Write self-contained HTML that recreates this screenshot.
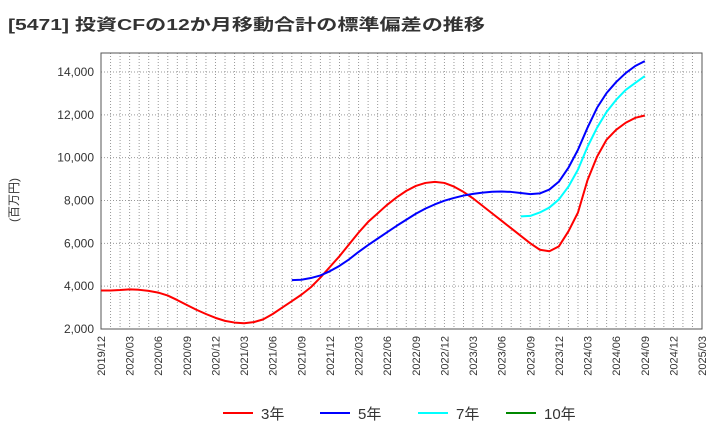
<!DOCTYPE html>
<html><head><meta charset="utf-8"><style>
body{margin:0;background:#fff;font-family:"Liberation Sans","Noto Sans CJK JP",sans-serif;}
svg{display:block}
</style></head><body>
<svg width="720" height="440" xmlns="http://www.w3.org/2000/svg">
<text x="8" y="30" font-size="16" font-weight="bold" fill="#333" textLength="477" lengthAdjust="spacingAndGlyphs">[5471]  投資CFの12か月移動合計の標準偏差の推移</text>
<text transform="translate(18,200) rotate(-90)" text-anchor="middle" font-size="12" fill="#333">(百万円)</text>
<g id="grid"></g><g id="axes"></g><g id="series"></g><g id="legend"></g>
</svg>
<script>
const xLabels=["2019/12","2020/03","2020/06","2020/09","2020/12","2021/03","2021/06","2021/09","2021/12","2022/03","2022/06","2022/09","2022/12","2023/03","2023/06","2023/09","2023/12","2024/03","2024/06","2024/09","2024/12","2025/03"];
const yTicks=[2000,4000,6000,8000,10000,12000,14000];
// monthly values; index 0 = 2019/12
const s3Start=0;
const s3=[3800,3800,3820,3850,3830,3780,3700,3560,3350,3120,2900,2700,2520,2380,2300,2270,2320,2450,2700,3000,3300,3600,3950,4400,4900,5400,5950,6500,7000,7400,7800,8150,8450,8680,8820,8870,8820,8650,8400,8100,7750,7400,7050,6700,6350,6000,5700,5630,5860,6560,7440,8950,10050,10840,11300,11630,11860,11970];
const s5Start=20;
const s5=[4280,4300,4380,4500,4700,4950,5250,5600,5920,6220,6520,6820,7100,7380,7620,7820,7990,8120,8230,8310,8370,8410,8420,8400,8350,8300,8330,8510,8880,9530,10370,11400,12330,13020,13530,13950,14280,14510];
const s7Start=44;
const s7=[7260,7280,7440,7670,8050,8650,9440,10510,11400,12140,12700,13160,13490,13810];
const s10=[];
const L=101,R=702,T=53,B=329,totalMonths=63;
const X=m=>L+(R-L)*m/totalMonths;
const Y=v=>B-(v-2000)*(B-72)/12000;
const NS="http://www.w3.org/2000/svg";
function mk(tag,attrs,parent){const e=document.createElementNS(NS,tag);for(const k in attrs)e.setAttribute(k,attrs[k]);parent.appendChild(e);return e;}
const grid=document.getElementById('grid'),axes=document.getElementById('axes'),ser=document.getElementById('series'),leg=document.getElementById('legend');
for(let m=1;m<totalMonths;m++){const l=mk('line',{x1:X(m),x2:X(m),y1:T,y2:B,stroke:'#999','stroke-dasharray':'1,2','stroke-width':1},grid);

}
yTicks.forEach(v=>{const l=mk('line',{x1:L,x2:R,y1:Y(v),y2:Y(v),stroke:'#999','stroke-dasharray':'1,2','stroke-width':1},grid);


const t=mk('text',{x:L-7,y:Y(v)+4,'text-anchor':'end','font-size':12,fill:'#333'},axes);t.textContent=v.toLocaleString('en-US');

});
xLabels.forEach((s,i)=>{const x=X(i*3);const t=mk('text',{transform:`translate(${x+4},336) rotate(-90)`,'text-anchor':'end','font-size':11,fill:'#333'},axes);t.textContent=s;

});
const fr=mk('rect',{x:L,y:T,width:R-L,height:B-T,fill:'none',stroke:'#555','stroke-width':1},axes);


function draw(arr,start,color,name){if(!arr.length)return;const p=mk('polyline',{points:arr.map((v,i)=>X(start+i)+','+Y(v)).join(' '),fill:'none',stroke:color,'stroke-width':2,'stroke-linejoin':'round'},ser);

}
draw(s3,s3Start,'#f00','series-3yr');
draw(s5,s5Start,'#00f','series-5yr');
draw(s7,s7Start,'#0ff','series-7yr');
draw(s10,0,'#080','series-10yr');
[["3年","#f00",223],["5年","#00f",320],["7年","#0ff",418],["10年","#080",506]].forEach(([n,c,x])=>{
const g=mk('g',{},leg);


mk('line',{x1:x,x2:x+30,y1:413,y2:413,stroke:c,'stroke-width':2},g);
const t=mk('text',{x:x+38,y:419,'font-size':15,fill:'#333'},g);t.textContent=n;});
</script>
</body></html>
